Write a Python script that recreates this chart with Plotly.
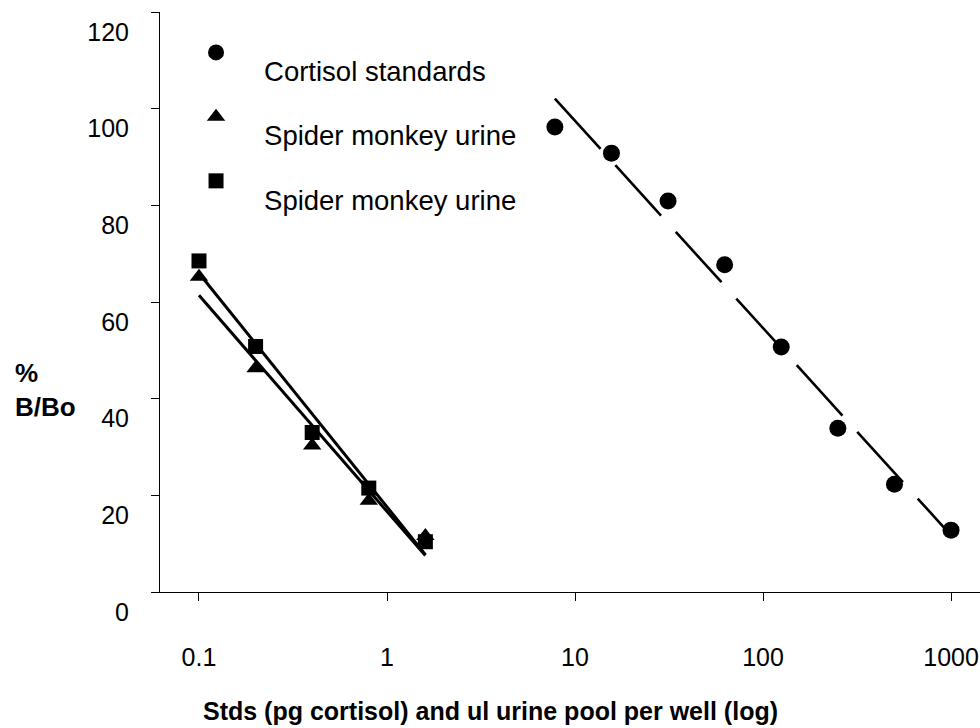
import numpy as np
import plotly.graph_objects as go

# ---- data ----
x_std = [7.8125, 15.625, 31.25, 62.5, 125, 250, 500, 1000]
y_std = [96.2, 90.8, 80.9, 67.7, 50.7, 33.9, 22.3, 12.8]

x_urine = [0.1, 0.2, 0.4, 0.8, 1.6]
y_urine_tri = [65.2, 46.3, 30.3, 18.9, 11.6]
y_urine_sq = [68.5, 50.8, 33.0, 21.5, 10.4]

x_ticks = [0.1, 1, 10, 100, 1000]
x_tick_labels = ["0.1", "1", "10", "100", "1000"]
y_ticks = [0, 20, 40, 60, 80, 100, 120]

names = ["Cortisol standards", "Spider monkey urine", "Spider monkey urine"]

FONT = "Liberation Sans, Arial, sans-serif"


def log_fit(xs, ys):
    lx = np.log10(np.asarray(xs, dtype=float))
    m, b = np.polyfit(lx, np.asarray(ys, dtype=float), 1)
    xe = np.array([min(xs), max(xs)], dtype=float)
    return xe, m * np.log10(xe) + b


def legend_name(t):
    return "\u00a0<br><span style='font-size:27.5px'>" + t + "</span>"


fig = go.Figure()

# trend lines
xe, ye = log_fit(x_std, y_std)
fig.add_trace(go.Scatter(x=xe, y=ye, mode="lines", showlegend=False,
                         line=dict(color="black", width=2.6, dash="68px,22px"),
                         hoverinfo="skip"))
xe, ye = log_fit(x_urine, y_urine_tri)
fig.add_trace(go.Scatter(x=xe, y=ye, mode="lines", showlegend=False,
                         line=dict(color="black", width=3), hoverinfo="skip"))
xe, ye = log_fit(x_urine, y_urine_sq)
fig.add_trace(go.Scatter(x=xe, y=ye, mode="lines", showlegend=False,
                         line=dict(color="black", width=3), hoverinfo="skip"))

# markers
fig.add_trace(go.Scatter(x=x_std, y=y_std, mode="markers", name=legend_name(names[0]),
                         legendgroup="a",
                         marker=dict(symbol="circle", size=17, color="black")))
fig.add_trace(go.Scatter(x=x_urine, y=y_urine_tri, mode="markers", name=legend_name(names[1]),
                         legendgroup="b",
                         marker=dict(symbol="triangle-up", size=16, color="black")))
fig.add_trace(go.Scatter(x=x_urine, y=y_urine_sq, mode="markers", name=legend_name(names[2]),
                         legendgroup="c",
                         marker=dict(symbol="square", size=15, color="black")))

fig.update_layout(
    width=980, height=728,
    margin=dict(l=160, r=0, t=12, b=136, pad=0),
    paper_bgcolor="white", plot_bgcolor="white",
    font=dict(family=FONT, size=25, color="black"),
    showlegend=True,
    legend=dict(
        x=0.0098, y=0.9605, xanchor="left", yanchor="top",
        bgcolor="rgba(0,0,0,0)", borderwidth=0,
        font=dict(family=FONT, size=17, color="black"),
        itemwidth=86, valign="top",
        traceorder="grouped", tracegroupgap=17,
    ),
    xaxis=dict(
        type="log", range=[-1.2074, 3.154],
        tickmode="array", tickvals=x_ticks, ticktext=x_tick_labels,
        showgrid=False, zeroline=False,
        showline=True, linecolor="black", linewidth=1,
        ticks="outside", ticklen=8, tickwidth=1, tickcolor="black",
        ticklabelstandoff=35,
        tickfont=dict(family=FONT, size=25, color="black"),
        automargin=False,
    ),
    yaxis=dict(
        range=[0, 120], tickmode="array", tickvals=y_ticks,
        showgrid=False, zeroline=False,
        showline=True, linecolor="black", linewidth=1,
        ticks="outside", ticklen=8, tickwidth=1, tickcolor="black",
        ticklabelstandoff=17, ticklabelshift=20,
        tickfont=dict(family=FONT, size=25, color="black"),
        automargin=False,
    ),
    annotations=[
        dict(text="%<br>B/Bo", xref="paper", yref="paper",
             x=(13 - 160) / 820, y=(592 - 390) / 580, xanchor="left", yanchor="middle",
             align="left", showarrow=False,
             font=dict(family=FONT, size=26, color="black", weight="bold")),
        dict(text="Stds (pg cortisol) and ul urine pool per well (log)",
             xref="paper", yref="paper",
             x=(490 - 160) / 820, y=(592 - 711) / 580, xanchor="center", yanchor="middle",
             showarrow=False,
             font=dict(family=FONT, size=25, color="black", weight="bold")),
    ],
)

fig.write_html("out.html")
